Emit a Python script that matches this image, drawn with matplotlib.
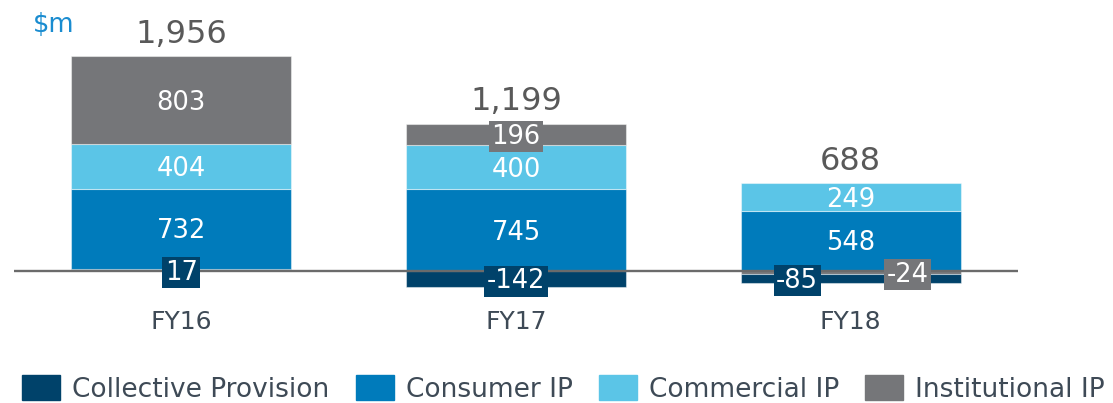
import matplotlib.pyplot as plt
import numpy as np

# data ($m)
years = ['FY16', 'FY17', 'FY18']
series = ['Collective Provision', 'Consumer IP', 'Commercial IP', 'Institutional IP']
collective = [17, -142, -85]
consumer = [732, 745, 548]
commercial = [404, 400, 249]
institutional = [803, 196, -24]
totals = ['1,956', '1,199', '688']

values = [collective, consumer, commercial, institutional]
colors = ['#00426a', '#007bbb', '#5bc5e7', '#757679']

# FY18 has two small negative labels, spread them sideways
label_shift = {(2, 0): -0.16, (2, 3): 0.17}

fig = plt.figure(figsize=(11.13, 4.03), dpi=100)
ax = fig.add_axes([14 / 1113, 103 / 403, 1004 / 1113, 280 / 403])
ax.set_xlim(-0.5, 2.5)
ax.set_ylim(-264, 2284)
ax.axis('off')

x = np.arange(len(years))
width = 0.657
pos_base = np.zeros(len(years))
neg_base = np.zeros(len(years))
seg = {}

# positives stack upward in series order
for s, vals in enumerate(values):
    for i, v in enumerate(vals):
        if v > 0:
            seg[(i, s)] = (pos_base[i], v)
            pos_base[i] += v
# negatives stack downward, institutional nearest the axis
for s in reversed(range(len(values))):
    for i, v in enumerate(values[s]):
        if v < 0:
            seg[(i, s)] = (neg_base[i], v)
            neg_base[i] += v

for (i, s), (b, v) in seg.items():
    ax.bar(x[i], v, width, bottom=b, color=colors[s], edgecolor=(1, 1, 1, 0.45),
           linewidth=0.8, zorder=2)

ax.axhline(0, color='#6b6b6b', lw=1.7, zorder=3)

for (i, s), (b, v) in seg.items():
    xt = x[i] + label_shift.get((i, s), 0)
    yt = b + v / 2
    box = None
    if abs(v) < 220:
        box = dict(boxstyle='square,pad=0.1', facecolor=colors[s], edgecolor='none')
    ax.annotate(str(v), (xt, yt), xytext=(0, -2.5), textcoords='offset pixels',
                ha='center', va='center', color='white', fontsize=18.5,
                bbox=box, zorder=5)

for i, t in enumerate(totals):
    ax.annotate(t, (x[i], pos_base[i]), xytext=(0, 22), textcoords='offset pixels',
                ha='center', va='center', fontsize=23, color='#595959')

for i, yr in enumerate(years):
    ax.text(x[i], -464, yr, ha='center', va='center', fontsize=18, color='#3e4a56',
            clip_on=False)

fig.text(54 / 1113, 1 - 25 / 403, r'\$m', ha='center', va='center', fontsize=18.5,
         color='#1a8cd0')

handles = [plt.Rectangle((0, 0), 1, 1, color=c) for c in colors]
leg = fig.legend(handles, series, loc='center', bbox_to_anchor=(563.5 / 1113, 14 / 403),
                 ncol=4, frameon=False, fontsize=19, handlelength=1.44, handleheight=1.05,
                 handletextpad=0.45, columnspacing=1.0, borderaxespad=0, borderpad=0)
for t in leg.get_texts():
    t.set_color('#3e4a56')

fig.savefig('out.png', dpi=100)
